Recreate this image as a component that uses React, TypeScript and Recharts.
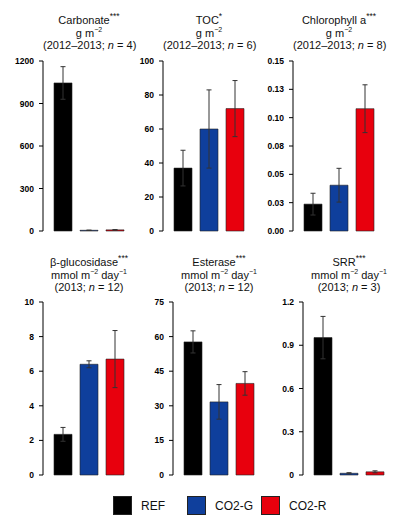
import React from "react"
import { BarChart, Bar, Cell, XAxis, YAxis, ErrorBar } from "recharts"

const groups = ["REF", "CO2-G", "CO2-R"]
const groupColors = ["#000000", "#0f3f9c", "#e8000d"]

const carbonateMean = [1045, 5, 8]
const carbonateErr = [115, 1, 2]
const carbonateTicks = [0, 300, 600, 900, 1200]

const tocMean = [37, 60, 72]
const tocErr = [10.5, 23, 16.5]
const tocTicks = [0, 20, 40, 60, 80, 100]

const chlMean = [0.0237, 0.0404, 0.1079]
const chlErr = [0.0096, 0.0149, 0.0211]
const chlTicks = [0, 0.025, 0.05, 0.075, 0.1, 0.125, 0.15]
const chlTickLabels = ["0.00", "0.03", "0.05", "0.08", "0.10", "0.13", "0.15"]

const glucMean = [2.35, 6.4, 6.7]
const glucErr = [0.4, 0.2, 1.65]
const glucTicks = [0, 2, 4, 6, 8, 10]

const estMean = [57.7, 31.7, 39.7]
const estErr = [4.8, 7.5, 5.1]
const estTicks = [0, 15, 30, 45, 60, 75]

const srrMean = [0.953, 0.012, 0.022]
const srrErr = [0.147, 0.004, 0.007]
const srrTicks = [0, 0.3, 0.6, 0.9, 1.2]
const srrTickLabels = ["0", "0.3", "0.6", "0.9", "1.2"]

const font = "'Liberation Sans', Arial, sans-serif"

function Panel({ left, top, height, plotTop, plotBottom, mean, err, ticks, labels, title }) {
  const data = groups.map((g, i) => ({ group: g, mean: mean[i], err: err[i] }))
  const fmt = (v) => {
    if (labels) return labels[ticks.indexOf(v)] ?? String(v)
    return String(v)
  }
  return (
    <div style={{ position: "absolute", left, top, width: 130, height }}>
      <div
        style={{
          position: "absolute",
          left: 43,
          width: 92,
          top: title.top,
          textAlign: "center",
          fontSize: 11,
          lineHeight: "12.5px",
          color: "#111",
          whiteSpace: "nowrap",
        }}
      >
        {title.lines}
      </div>
      <div style={{ position: "absolute", left: 0, top: 0 }}>
        <BarChart
          width={135}
          height={height}
          data={data}
          margin={{ top: plotTop, bottom: height - plotBottom, left: 0, right: 0 }}
          barSize={18}
        >
          <XAxis dataKey="group" hide padding={{ left: 7, right: 7 }} />
          <YAxis
            width={43}
            domain={[ticks[0], ticks[ticks.length - 1]]}
            ticks={ticks}
            interval={0}
            tickFormatter={fmt}
            tick={{ fontSize: 8.5, fill: "#000", fontFamily: font, fontWeight: 700 }}
            tickSize={4}
            tickMargin={5}
            stroke="#000"
            axisLine={{ stroke: "#000", strokeWidth: 1 }}
            tickLine={{ stroke: "#000" }}
          />
          <Bar dataKey="mean" isAnimationActive={false} stroke="#222" strokeWidth={0.6}>
            {data.map((d, i) => (
              <Cell key={d.group} fill={groupColors[i]} />
            ))}
            <ErrorBar dataKey="err" width={2.5} stroke="#333" strokeWidth={1} direction="y" />
          </Bar>
        </BarChart>
      </div>
    </div>
  )
}

const sup = (t, size = 7) => <sup style={{ fontSize: size, lineHeight: 0 }}>{t}</sup>
const nLine = (years, n) => (
  <>
    ({years}; <i>n</i> = {n})
  </>
)

export default function App() {
  const topTitle = (name, stars, unit, years, n) => ({
    top: 14,
    lines: (
      <>
        <div>{name}{sup(stars, 8.5)}</div>
        <div>{unit}</div>
        <div>{nLine(years, n)}</div>
      </>
    ),
  })
  const gm = <>g m{sup("−2")}</>
  const mmol = <>mmol m{sup("−2")} day{sup("−1")}</>
  const botTitle = (name, stars, n) => ({
    top: 16,
    lines: (
      <>
        <div>{name}{sup(stars, 8.5)}</div>
        <div>{mmol}</div>
        <div>{nLine("2013", n)}</div>
      </>
    ),
  })

  return (
    <div style={{ position: "absolute", left: 0, top: 0, width: 396, height: 517, background: "#fff", fontFamily: font }}>
      <Panel left={0} top={0} height={240} plotTop={61} plotBottom={231}
        mean={carbonateMean} err={carbonateErr} ticks={carbonateTicks}
        title={topTitle("Carbonate", "***", gm, "2012–2013", 4)} />
      <Panel left={120} top={0} height={240} plotTop={61} plotBottom={231}
        mean={tocMean} err={tocErr} ticks={tocTicks}
        title={topTitle("TOC", "*", gm, "2012–2013", 6)} />
      <Panel left={250} top={0} height={240} plotTop={61} plotBottom={231}
        mean={chlMean} err={chlErr} ticks={chlTicks} labels={chlTickLabels}
        title={topTitle("Chlorophyll a", "***", gm, "2012–2013", 8)} />
      <Panel left={0} top={240} height={245} plotTop={62} plotBottom={235}
        mean={glucMean} err={glucErr} ticks={glucTicks}
        title={botTitle("β-glucosidase", "***", 12)} />
      <Panel left={130} top={240} height={245} plotTop={62} plotBottom={235}
        mean={estMean} err={estErr} ticks={estTicks}
        title={botTitle("Esterase", "***", 12)} />
      <Panel left={260} top={240} height={245} plotTop={62} plotBottom={235}
        mean={srrMean} err={srrErr} ticks={srrTicks} labels={srrTickLabels}
        title={botTitle("SRR", "***", 3)} />
      <div style={{ position: "absolute", left: 113, top: 496, display: "flex", alignItems: "center", fontSize: 12 }}>
        {groups.map((g, i) => (
          <div key={g} style={{ display: "flex", alignItems: "center", width: i === 2 ? 80 : 74 }}>
            <div style={{ width: 19, height: 19, background: groupColors[i], border: "1px solid #222", boxSizing: "border-box" }} />
            <span style={{ marginLeft: 9, color: "#111" }}>{g}</span>
          </div>
        ))}
      </div>
    </div>
  )
}
